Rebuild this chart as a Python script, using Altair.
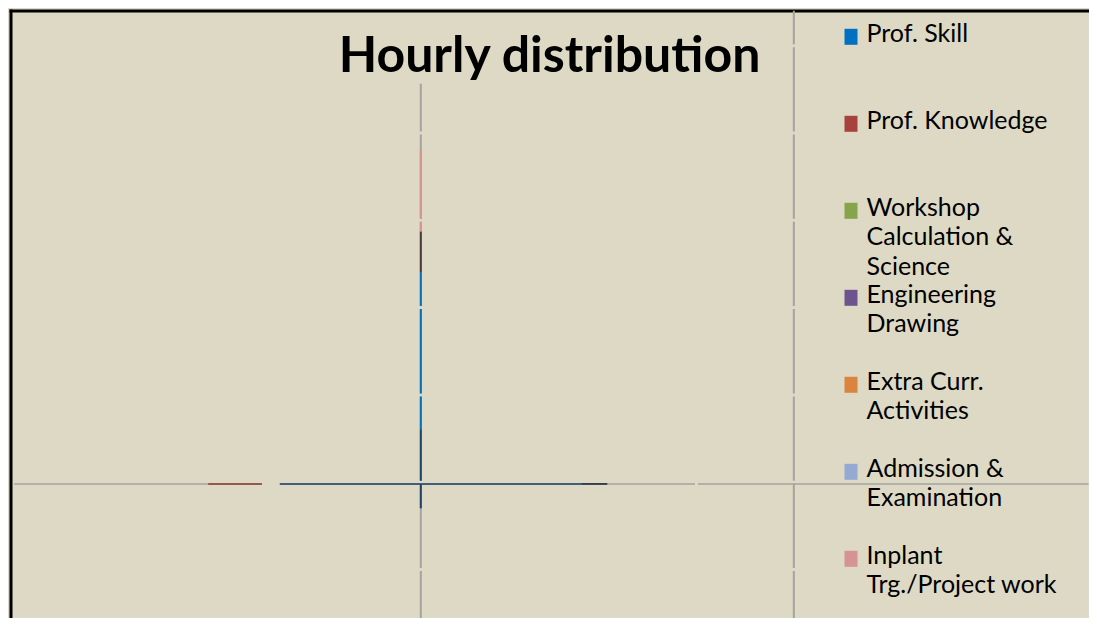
import json
import altair as alt
import pandas as pd

# Legend categories (pie slices) and their colours
categories = ["Prof. Skill", "Prof. Knowledge", "Workshop Calculation & Science",
              "Engineering Drawing", "Extra Curr. Activities",
              "Admission & Examination", "Inplant Trg./Project work"]
category_colors = ["#0070C0", "#A8423F", "#86A44A", "#6E548D", "#DB843D", "#95AAD2", "#D59393"]
label_lines = [["Prof. Skill"], ["Prof. Knowledge"], ["Workshop", "Calculation &", "Science"],
               ["Engineering", "Drawing"], ["Extra Curr.", "Activities"],
               ["Admission &", "Examination"], ["Inplant", "Trg./Project work"]]

# Shaded edges of the collapsed (edge-on) pie and the grid lines
shade_names = ["Prof. Skill (edge)", "Prof. Knowledge (edge)", "Inplant (edge)", "Dark edge", "Gridline"]
shade_colors = ["#1B4468", "#8E3A30", "#4B3B3D", "#1C2A38", "#A3A3A0"]

# Vertical pieces
v_part = ["Gridline", "Gridline", "Inplant Trg./Project work", "Inplant (edge)",
          "Prof. Skill", "Prof. Skill (edge)"]
v_x = [0, 1, 0, 0, 0, 0]
v_top = [4.6, 5.44, 3.84, 2.90, 2.43, 0.63]
v_bottom = [-1.54, -1.54, 2.90, 2.43, 0.63, -0.28]

# Horizontal pieces
h_part = ["Gridline", "Gridline", "Gridline", "Prof. Knowledge (edge)", "Prof. Skill (edge)", "Dark edge"]
h_left = [-1.09, -0.378, 0.743, -0.57, -0.378, 0.43]
h_right = [-0.426, 0.735, 1.79, -0.426, 0.43, 0.50]
h_y = [0, 0, 0, 0, 0, 0]

X_DOMAIN = [-1.1, 1.79]
Y_DOMAIN = [-1.535, 5.442]

vdf = pd.DataFrame({"part": v_part, "x": v_x, "top": v_top, "bottom": v_bottom})
hdf = pd.DataFrame({"part": h_part, "left": h_left, "right": h_right, "y": h_y})

label_expr = " : ".join(
    f"datum.label == {json.dumps(c)} ? {json.dumps(lines)}" for c, lines in zip(categories, label_lines)
) + " : datum.label"

legend = alt.Legend(
    values=categories, title=None, orient="none", legendX=826, legendY=8.6,
    padding=0, rowPadding=-40, gridAlign="all",
    labelFont="Lato", labelFontSize=25, labelColor="black", labelLimit=320,
    labelBaseline="middle", labelOffset=1, labelExpr=label_expr,
    symbolType="M0,-0.6L0,1.4", symbolSize=256, symbolStrokeWidth=13, symbolOpacity=1,
)

color = alt.Color("part:N", scale=alt.Scale(domain=categories + shade_names,
                                            range=category_colors + shade_colors),
                  legend=legend)

x_axis = alt.Axis(orient="top", labels=False, ticks=False, grid=False, title=None,
                  domainColor="black", domainWidth=3, domainCap="square")
y_axis = alt.Axis(orient="left", labels=False, ticks=False, grid=False, title=None,
                  domainColor="black", domainWidth=3, domainCap="square")

dash_offset = "((scale('y', datum.top) - 36.7) % 87.3 + 87.3) % 87.3"

vertical = alt.Chart(vdf).mark_rule(
    strokeWidth=2, strokeDash=[84.3, 3], strokeDashOffset=alt.expr(dash_offset)
).encode(
    x=alt.X("x:Q", scale=alt.Scale(domain=X_DOMAIN, nice=False, zero=False), axis=x_axis),
    y=alt.Y("top:Q", scale=alt.Scale(domain=Y_DOMAIN, nice=False, zero=False), axis=y_axis),
    y2="bottom:Q",
    color=color,
)

horizontal = alt.Chart(hdf).mark_rule(strokeWidth=1.6).encode(
    x=alt.X("left:Q", scale=alt.Scale(domain=X_DOMAIN, nice=False, zero=False), axis=x_axis),
    x2="right:Q",
    y=alt.Y("y:Q", scale=alt.Scale(domain=Y_DOMAIN, nice=False, zero=False), axis=y_axis),
    color=color,
)

chart = alt.layer(horizontal, vertical).properties(
    width=1078, height=607,
    title=alt.TitleParams("Hourly distribution", font="Lato", fontSize=50, fontWeight="bold",
                          color="black", anchor="middle", offset=0, baseline="alphabetic",
                          dy=112.5, dx=0),
    autosize=alt.AutoSizeParams(type="none"),
    padding={"left": 2.5, "top": 2.5, "right": 0, "bottom": 0},
).configure_view(stroke=None).configure(
    background="#DDD9C4", style={"guide-label": {"lineHeight": 29.5}}
)

chart.save("out.html", embed_options={"renderer": "svg", "actions": False})
